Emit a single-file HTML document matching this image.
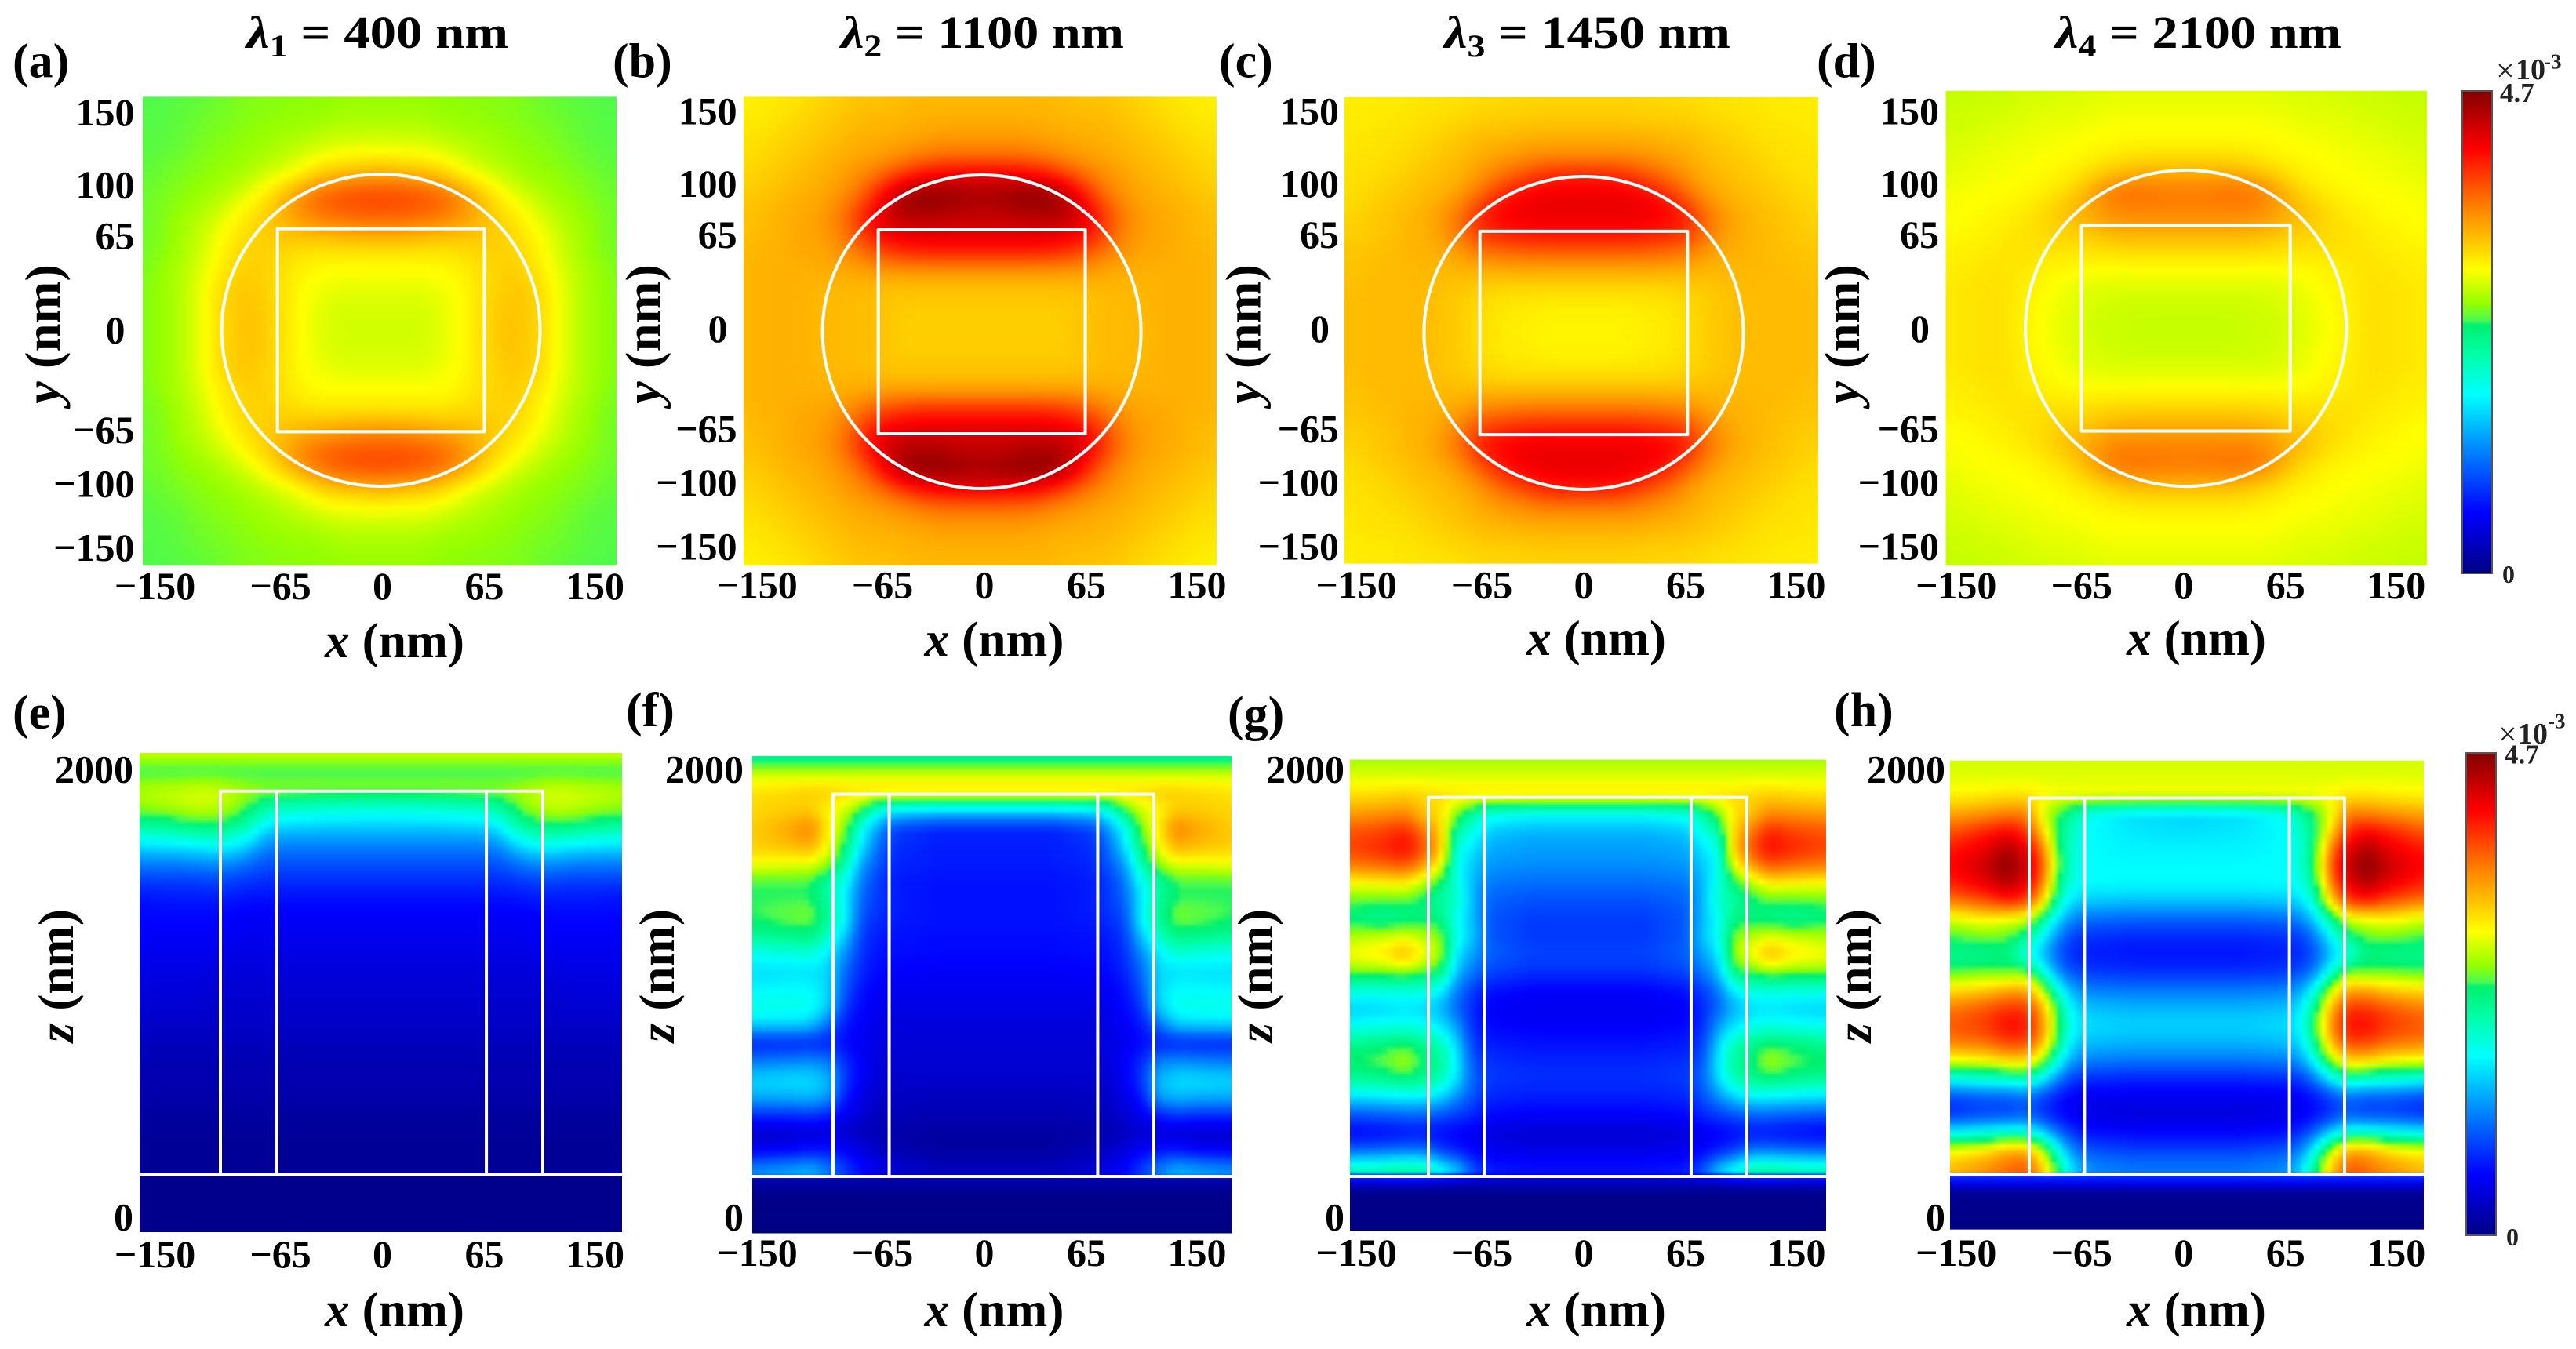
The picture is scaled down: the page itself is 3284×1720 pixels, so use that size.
<!DOCTYPE html>
<html lang="en">
<head>
<meta charset="utf-8">
<title>Electric field intensity maps</title>
<style>
html,body{margin:0;padding:0;background:#fff;}
svg{display:block;font-family:"Liberation Serif",serif;font-weight:bold;}
</style>
</head>
<body>
<svg id="figure" width="3284" height="1720" viewBox="0 0 3284 1720">
  <defs>
    <filter id="smooth" color-interpolation-filters="sRGB"><feGaussianBlur stdDeviation="2.5"/></filter>
  </defs>
</svg>
<script>
/* ---- colour scale: percent of colorbar range (0 - 4.7e-3) ---- */
const cmapPos=[0,12.5,25,37,45,51.5,52.5,56,63,76,88,100];
const cmapRed=[0,0,0,0,0,0,75,150,255,255,255,130];
const cmapGreen=[0,0,128,255,255,240,250,255,255,128,0,0];
const cmapBlue=[130,255,255,255,170,110,80,0,0,0,0,0];

/* ---- tick labels ---- */
const xTickValues=[-150,-65,0,65,150];
const yTickValues=[150,100,65,0,-65,-100,-150];
const zTickValues=[2000,0];

/* ---- grid of the xy maps (nm); fields are stored for one quadrant ---- */
const xyGridX=[0,12.5,25,37.5,50,62.5,75,87.5,100,112.5,125,137.5,150];
const xyGridY=[0,12.5,25,37.5,50,62.5,75,87.5,100,112.5,125,137.5,150];

const fieldA=[
[60,60,60,61,63,66,69,69,67,62,58,56,55],
[60,60,60,61,63,66,69,69,67,62,58,56,55],
[61,61,61,62,63,66,68,69,67,62,58,56,55],
[63,63,63,63,64,66,68,68,65,61,58,56,54.5],
[65,65,65,65,66,67,68,67,64,60,57,55,54.5],
[73,73,72,71,70,69,68,66,63,59,57,55,54],
[80,80,79,78,75,71,67,64,60,58,56,55,54],
[82,82,81,79,75,69,64,60,58,56,55.5,54.5,54],
[72,71,70,68,64,61,59,57,56,55.5,55,54,53.5],
[64,63,63,62,60,58,57,56,55.5,55,54,53.5,53],
[59,59,59,58,57,57,56,55.5,55,54.5,53.5,53,53],
[57,57,57,56,56,55.5,55.5,55,54.5,54,53.5,53,52.8],
[56,56,56,55.5,55.5,55.5,55,55,54,53.5,53,52.8,52.6]];

const fieldB=[
[68,68,68,68,68,69,70,70,70,71,71,71,70],
[68,68,68,68,68,69,70,70,70,71,71,71,70],
[69,69,69,69,69,69,70,70,70,71,71,71,70],
[72,72,72,72,72,72,72,71,71,71,71,71,70],
[85,85,85,85,84,81,77,74,72,72,71,71,70],
[91,91,91,91,90,89,83,76,73,72,71,70,69],
[94,94,95,96,96,92,85,77,73,72,71,70,69],
[97,98,100,100,97,88,78,74,72,71,70,69,68],
[90,90,89,87,83,78,75,73,71,70,69,68,67],
[77,77,77,76,74,73,72,71,70,69,68,67,66],
[73,73,73,72,72,71,71,70,69,68,67,66,65.5],
[71,71,71,71,70,70,70,69,68,67,66,65,65],
[70,70,70,70,70,69,69,68,67,66,65,65,64]];

const fieldC=[
[64,64,64,64.5,65,66,67.5,69,70,70,70,70,69.5],
[64,64,64,65,65,66,68,69,70,70,70,70,69.5],
[66,66,66,66,66,67,68,69,70,70,70,70,69.5],
[70,70,70,70,70,70,70,70,70,70,70,69.5,69],
[78,78,78,78,77,76,73,71,71,70,70,69,69],
[87,87,87,86,85,84,78,73,71,70,69,68,68],
[90,90,90,90,89,87,79,74,71,70,69,68,67],
[90,90,90,89,86,80,74,71,70,69,68,67,66],
[86,86,85,81,78,74,71,70,69,68,67,66,66],
[75,75,75,74,73,72,70,69,68,67,66,66,65.5],
[71,71,71,71,70,70,69,68,67,66,66,65.5,65],
[68.5,68.5,68.5,68,68,68,67,66.5,66,65.5,65,65,65],
[67,67,67,67,66.5,66.5,66,65.5,65.5,65,65,65,64.5]];

const fieldD=[
[59,59,59,59.5,59.5,60,61,62.5,64,66,66,65.5,65],
[59.5,59.5,59.5,59.5,60,60.5,61.5,63,64,66,66,65.5,65],
[60.5,60.5,60.5,60.5,60.5,61,62,63.5,64.5,66,66,65.5,65],
[63,63,63,63,63,63,63.5,64,65,66,65.5,65,64.5],
[67,67,67,67,66.5,66,66,66,66,65.5,65,64.5,64],
[72,72,72,72,71,69,68,67,66,65,64,63.5,63],
[76,76,76,76,75,72,70,67,65,64,63.5,63,62.5],
[77,77,78,78,76,70,66,64,63.5,63,63,62.5,62],
[70,70,70,69,67,65,64,63.5,63,62.5,62,61.5,61],
[65,65,65,64.5,64,63.5,63,62.5,62,62,61.5,61,60.5],
[63,63,63,63,63,62.5,62,62,61.5,61,60.5,60,60],
[62,62,62,62,62,61.5,61,61,60.5,60,60,59.5,59.5],
[61,61,61,61,61,60.5,60.5,60,60,59.5,59.5,59,59]];

/* ---- grid of the xz maps (nm); fields are stored for x >= 0 ---- */
const xzGridX=[0,35,62,72,82,92,102,114,128,150];
const xzGridZ=[2060,1980,1900,1820,1740,1660,1580,1500,1420,1340,1260,1180,1100,1020,940,860,780,700,620,540,460,380,300,220];
const substrateZ=[180,120,-70];

const fieldE=[
[60,60,60,60,60,60,60,60,60,60],
[51,51,51,51,51,51,51,51,51,51],
[56,56,56,56,57,58,60,60,59,58],
[41,42,44,47,52,57,59,60,58,56],
[33,33,34,36,44,49,51,51,49,47],
[26,26,26,27,34,38,40,38,37,36],
[21,21,21,21,24,27,28,27,26,26],
[17,17,17,17,18,19,20,19,19,19],
[14,14,14,14,14,15,15,15,15,14],
[12,12,12,12,12,12,13,13,13,13],
[11,11,11,11,11,12,12,12,12,12],
[10,10,10,10,10,10,11,11,11,11],
[9,9,9,9,9,9,9,10,10,10],
[8,8,8,8,8,8,8,9,9,9],
[7.5,7.5,7.5,7.5,7.5,7.5,7.5,8,8,8],
[7,7,7,7,7,7,7,7,7,7],
[6,6,6,6,6,6,6,6,6,6],
[5,5,5,5,5,5,5,5,5,5],
[4.5,4.5,4.5,4.5,4.5,4.5,4.5,4.5,4.5,4.5],
[4,4,4,4,4,4,4,4,4,4],
[3,3,3,3,3,3,3,3,3,3],
[2.5,2.5,2.5,2.5,2.5,2.5,2.5,2.5,2.5,2.5],
[2,2,2,2,2,2,2,2,2,2],
[2,2,2,2,2,2,2,2,2,2]];
const substrateE=[1,1,1];

const fieldF=[
[46,46,46,46,46,46,46,46,46,46],
[60,60,60,60,60,60,60,60,60,60],
[67,67,67,67,67,67,68,68,67,66],
[34,34,36,40,52,60,63,68,68,67],
[16,16,19,28,38,55,64,76,72,68],
[15,15,17,23,35,50,62,72,70,68],
[15,15,16,21,28,45,56,62,62,63],
[14,14,15,18,24,38,45,52,52,52],
[14,14,15,18,22,35,46,52,52,52],
[14,14,15,17,20,37,47,55,54,52],
[13.5,13.5,14,15,18,32,42,50,49,48],
[13,13,13.5,14,17,26,35,41,40,38],
[12,12,12.5,13,16,22,33,34,34,34],
[11,11,11,12,14,20,33,37,37,36],
[10,10,10,11,13,17,32,39,40,40],
[9,9,9,10,12,14,22,32,33,33],
[8.5,8.5,8.5,9.5,11,13,15,15,15,15],
[8,8,8,9,12,16,24,26,25,24],
[7.5,7.5,7.5,8,12,17,30,34,34,33],
[6,6,6.5,7,10,14,28,31,30,30],
[5,5,5.5,6,8,11,15,18,17,17],
[3,3,4,5,6,7,8,8,7,7],
[3,3,5,7,9,12,14,14,12,11],
[6,6,8,10,13,18,24,30,28,26]];
const substrateF=[6,1,0];

const fieldG=[
[57,57,57,57,57,57,57,57,57,57],
[61,61,61,61,61,61,61,61,61,61],
[66,66,66,66,66,66,67,68,67,66],
[38,38,40,46,55,66,68,75,74,73],
[30,30,32,40,45,68,76,85,82,80],
[28,28,29,35,38,70,80,88,85,82],
[26,26,27,32,37,62,72,80,78,76],
[23,23,24,30,40,50,56,64,63,62],
[20,20,22,30,42,46,50,52,52,53],
[18,18,21,31,37,50,50,49,47,50],
[18,18,21,32,38,56,58,62,60,58],
[19,19,22,28,34,58,62,72,66,63],
[17,17,19,24,30,50,52,55,54,54],
[12,12,14,18,24,36,40,40,40,40],
[11,11,12,16,22,30,33,34,33,32],
[12,12,13,16,28,35,38,40,39,38],
[14,14,15,18,33,44,48,52,50,48],
[16,16,17,20,36,47,50,58,54,52],
[17,17,18,22,34,44,48,50,48,47],
[15,15,16,20,26,33,36,36,35,34],
[12,12,13,16,18,20,22,22,21,20],
[8,8,9,11,12,13,14,14,13,12],
[10,10,11,12,15,18,24,24,23,22],
[14,14,15,20,32,38,46,47,45,44]];
const substrateG=[10,1,0];

const fieldH=[
[60,60,60,60,60,60,60,60,60,60],
[61,61,61,61,61,61,61,61,61,61],
[63,63,63,63,63,64,66,66,65,64],
[33,34,38,46,52,62,76,76,74,72],
[34,35,37,42,50,68,84,88,85,80],
[36,36,37,40,52,78,90,96,90,86],
[37,37,37,40,54,82,93,100,93,88],
[37,37,37,38,50,78,90,95,90,85],
[31,31,32,33,44,68,82,85,80,76],
[22,22,23,25,34,48,60,62,64,60],
[16,16,17,18,25,38,48,53,54,52],
[14,14,15,16,21,31,38,50,48,48],
[17,17,18,20,26,42,55,53,54,52],
[24,24,25,28,40,60,72,72,68,66],
[30,30,31,34,50,72,83,83,80,76],
[33,33,34,36,54,76,87,88,83,80],
[30,30,31,33,50,72,82,82,78,76],
[24,24,25,27,40,58,68,68,64,62],
[16,16,17,18,26,38,46,43,42,40],
[11,11,11,12,15,20,24,22,22,20],
[9,9,10,11,13,17,20,18,18,16],
[12,12,13,16,22,31,38,38,36,34],
[18,18,20,24,38,58,70,70,64,60],
[24,24,26,32,50,70,80,78,74,70]];
const substrateH=[24,2,0];

const svg=document.getElementById('figure');
const SVGNS=svg.namespaceURI;
const CELL=8;

/* ---- helpers ---- */
function colorOf(v){
  v=Math.max(0,Math.min(100,v));
  let i=0;
  while(i<cmapPos.length-2&&v>cmapPos[i+1])i++;
  const t=(v-cmapPos[i])/(cmapPos[i+1]-cmapPos[i]);
  const r=cmapRed[i]+(cmapRed[i+1]-cmapRed[i])*t;
  const g=cmapGreen[i]+(cmapGreen[i+1]-cmapGreen[i])*t;
  const b=cmapBlue[i]+(cmapBlue[i+1]-cmapBlue[i])*t;
  return 'rgb('+Math.round(r)+','+Math.round(g)+','+Math.round(b)+')';
}
function locate(grid,v){
  const n=grid.length;
  const asc=grid[n-1]>grid[0];
  if(asc){
    if(v<=grid[0])return [0,0];
    if(v>=grid[n-1])return [n-2,1];
    let i=0;while(grid[i+1]<v)i++;
    return [i,(v-grid[i])/(grid[i+1]-grid[i])];
  }
  if(v>=grid[0])return [0,0];
  if(v<=grid[n-1])return [n-2,1];
  let i=0;while(grid[i+1]>v)i++;
  return [i,(v-grid[i])/(grid[i+1]-grid[i])];
}
function bilinear(field,gridRow,gridCol,rowV,colV){
  const [r,tr]=locate(gridRow,rowV);
  const [c,tc]=locate(gridCol,colV);
  const a=field[r][c]+(field[r][c+1]-field[r][c])*tc;
  const b=field[r+1][c]+(field[r+1][c+1]-field[r+1][c])*tc;
  return a+(b-a)*tr;
}
function addText(parent,name,str,x,y,size,anchor,fill){
  const el=document.createElementNS(SVGNS,'text');
  
  
  el.setAttribute('x',x);
  el.setAttribute('y',y);
  el.setAttribute('font-size',size);
  el.setAttribute('text-anchor',anchor||'start');
  if(fill)el.setAttribute('fill',fill);
  el.textContent=str;
  parent.appendChild(el);
  return el;
}
function addSpan(parent,str,italic,size,dy){
  const s=document.createElementNS(SVGNS,'tspan');
  if(italic)s.setAttribute('font-style','italic');
  if(size)s.setAttribute('font-size',size);
  if(dy)s.setAttribute('dy',dy);
  s.textContent=str;
  parent.appendChild(s);
}
function addGroup(parent,name){
  const g=document.createElementNS(SVGNS,'g');
  
  
  parent.appendChild(g);
  return g;
}
function addLineRect(parent,name,x,y,w,h){
  const r=document.createElementNS(SVGNS,'rect');
  
  
  r.setAttribute('x',x);r.setAttribute('y',y);
  r.setAttribute('width',w);r.setAttribute('height',h);
  r.setAttribute('fill','none');r.setAttribute('stroke','#fff');
  r.setAttribute('stroke-width','4');r.setAttribute('stroke-linejoin','round');
  parent.appendChild(r);
}
function addLine(parent,name,x1,y1,x2,y2){
  const l=document.createElementNS(SVGNS,'line');
  
  
  l.setAttribute('x1',x1);l.setAttribute('y1',y1);
  l.setAttribute('x2',x2);l.setAttribute('y2',y2);
  l.setAttribute('stroke','#fff');l.setAttribute('stroke-width','4');
  parent.appendChild(l);
}
/* shading: sample the field, soften it in value space, then colour each cell */
function drawHeat(parent,id,b,sampler,passes,splitY){
  const clip=document.createElementNS(SVGNS,'clipPath');
  clip.setAttribute('id','clip-'+id);
  const cr=document.createElementNS(SVGNS,'rect');
  cr.setAttribute('x',b.left);cr.setAttribute('y',b.top);
  cr.setAttribute('width',b.right-b.left);cr.setAttribute('height',b.bottom-b.top);
  clip.appendChild(cr);
  svg.querySelector('defs').appendChild(clip);
  const outer=addGroup(parent,'heatmap-'+id);
  outer.setAttribute('clip-path','url(#clip-'+id+')');
  const inner=addGroup(outer,'heatmap-cells-'+id);
  inner.setAttribute('filter','url(#smooth)');
  const xs=[],ys=[];
  for(let px=b.left-16;px<b.right+16;px+=CELL)xs.push(px);
  for(let py=b.top-16;py<b.bottom+16;py+=CELL)ys.push(py);
  let vals=ys.map(function(py){return xs.map(function(px){return sampler(px+CELL/2,py+CELL/2);});});
  const same=function(a,c){
    if(splitY===undefined)return true;
    return (ys[a]+CELL/2<splitY)===(ys[c]+CELL/2<splitY);
  };
  for(let p=0;p<passes;p++){
    vals=vals.map(function(row){
      return row.map(function(v,i){
        const l=row[Math.max(0,i-1)],r=row[Math.min(row.length-1,i+1)];
        return (l+v+r)/3;
      });
    });
    vals=vals.map(function(row,j){
      const up=(j>0&&same(j,j-1))?vals[j-1]:row;
      const dn=(j<vals.length-1&&same(j,j+1))?vals[j+1]:row;
      return row.map(function(v,i){return (up[i]+v+dn[i])/3;});
    });
  }
  const frag=document.createDocumentFragment();
  ys.forEach(function(py,j){
    xs.forEach(function(px,i){
      const el=document.createElementNS(SVGNS,'rect');
      
      
      el.setAttribute('x',px);
      el.setAttribute('y',py);
      el.setAttribute('width',CELL+0.5);
      el.setAttribute('height',CELL+0.5);
      el.setAttribute('fill',colorOf(vals[j][i]));
      frag.appendChild(el);
    });
  });
  inner.appendChild(frag);
}
function drawAxisTitle(g,name,letter,x,y,len,rotate){
  const t=addText(g,name,'',x,y,63,'middle');
  addSpan(t,letter,true);
  addSpan(t,' (nm)',false);
  t.setAttribute('textLength',len);
  t.setAttribute('lengthAdjust','spacingAndGlyphs');
  if(rotate)t.setAttribute('transform','rotate(-90 '+x+' '+y+')');
}
function drawXTicks(g,zeroX,baseline){
  xTickValues.forEach(function(tick){
    const edge=tick===-150?10:(tick===150?-29:0);
    const label=(tick<0?'\u2212':'')+Math.abs(tick);
    addText(g,'x-tick-label',label,zeroX+tick*2+edge,baseline,50,'middle');
  });
}

/* ---- xy panels ---- */
const xyPanels=[
 {id:'a',letter:'(a)',lx:16,field:fieldA,left:182,right:786,top:123.4,bottom:721,cx:485.6,cy:421,sx:2.03,sy:1.99,yRight:171.5,yTop:437.5,zeroX:487.5,xBase:764,
  titleN:'1',titleV:' = 400 nm',tx:314,tl:334,axX:503,yAxX:76,xAxB:838},
 {id:'b',letter:'(b)',lx:781,field:fieldB,left:948,right:1551,top:123.4,bottom:721,cx:1251.6,cy:423,sx:2.03,sy:2,yRight:939.6,yTop:436,zeroX:1255,xBase:762.5,
  titleN:'2',titleV:' = 1100 nm',tx:1072,tl:361,axX:1267.5,yAxX:841.6,xAxB:836.5},
 {id:'c',letter:'(c)',lx:1554,field:fieldC,left:1714,right:2318,top:124,bottom:718.6,cx:2019,cy:424.5,sx:2.036,sy:1.995,yRight:1707,yTop:436,zeroX:2019,xBase:762.5,
  titleN:'3',titleV:' = 1450 nm',tx:1841,tl:365,axX:2035,yAxX:1606.5,xAxB:835},
 {id:'d',letter:'(d)',lx:2316,field:fieldD,left:2480.6,right:3094,top:115.7,bottom:721,cx:2786.7,cy:418.5,sx:2.046,sy:2.016,yRight:2472,yTop:436,zeroX:2783.7,xBase:763,
  titleN:'4',titleV:' = 2100 nm',tx:2620,tl:365,axX:2800,yAxX:2370,xAxB:835}
];
xyPanels.forEach(function(p){
  const g=addGroup(svg,'panel-'+p.id);
  drawHeat(g,p.id,p,function(px,py){
    const x=Math.abs((px-p.cx)/p.sx);
    const y=Math.abs((py-p.cy)/p.sy);
    return bilinear(p.field,xyGridY,xyGridX,y,x);
  },3);
  const c=document.createElementNS(SVGNS,'ellipse');
  
  
  c.setAttribute('cx',p.cx);c.setAttribute('cy',p.cy);
  c.setAttribute('rx',100*p.sx);c.setAttribute('ry',100*p.sy);
  c.setAttribute('fill','none');c.setAttribute('stroke','#fff');c.setAttribute('stroke-width','4');
  g.appendChild(c);
  addLineRect(g,'square-outline',p.cx-65*p.sx,p.cy-65*p.sy,130*p.sx,130*p.sy);
  addText(g,'panel-label',p.letter,p.lx,98.7,62);
  const t=addText(g,'wavelength-title','',p.tx,61,58);
  addSpan(t,'\u03bb',true);
  addSpan(t,p.titleN,false,40,11);
  addSpan(t,p.titleV,false,58,-11);
  t.setAttribute('textLength',p.tl);
  t.setAttribute('lengthAdjust','spacingAndGlyphs');
  yTickValues.forEach(function(tick){
    const nudge=tick===-65?7:(tick===-100?11:0);
    const label=(tick<0?'\u2212':'')+Math.abs(tick);
    const right=p.yRight-(tick===0?12:0);
    addText(g,'y-tick-label',label,right,p.yTop-tick*1.85+nudge,50,'end');
  });
  drawXTicks(g,p.zeroX,p.xBase);
  drawAxisTitle(g,'x-axis-title','x',p.axX,p.xAxB,178,false);
  drawAxisTitle(g,'y-axis-title','y',p.yAxX,426,178,true);
});

/* ---- xz panels ---- */
const xzPanels=[
 {id:'e',letter:'(e)',lx:16,ly:929,field:fieldE,sub:substrateE,left:178,right:793,top:960,bottom:1571,line:1498,cx:486.5,sx:2.055,zRight:170,zeroX:487.5,xBase:1616,axX:503,zAxX:93},
 {id:'f',letter:'(f)',lx:798,ly:926,field:fieldF,sub:substrateF,left:959,right:1570,top:964,bottom:1572.5,line:1500,cx:1266.5,sx:2.045,zRight:948,zeroX:1255,xBase:1614,axX:1267.5,zAxX:859},
 {id:'g',letter:'(g)',lx:1565,ly:931,field:fieldG,sub:substrateG,left:1721,right:2328,top:968.6,bottom:1569,line:1500,cx:2024,sx:2.03,zRight:1714,zeroX:2019,xBase:1614,axX:2035,zAxX:1622},
 {id:'h',letter:'(h)',lx:2338,ly:926,field:fieldH,sub:substrateH,left:2486,right:3090,top:969.7,bottom:1567.6,line:1497,cx:2788,sx:2.01,zRight:2480,zeroX:2783.7,xBase:1614,axX:2800,zAxX:2385}
];
const LINE_Z=184;
xzPanels.forEach(function(p){
  const g=addGroup(svg,'panel-'+p.id);
  const zTop=xzGridZ[0], zBot=substrateZ[substrateZ.length-1];
  const zToY=function(z){
    return z>=LINE_Z? p.top+(zTop-z)/(zTop-LINE_Z)*(p.line-p.top)
                    : p.line+(LINE_Z-z)/(LINE_Z-zBot)*(p.bottom-p.line);
  };
  const yToZ=function(y){
    return y<=p.line? zTop-(y-p.top)/(p.line-p.top)*(zTop-LINE_Z)
                    : LINE_Z-(y-p.line)/(p.bottom-p.line)*(LINE_Z-zBot);
  };
  const lastRow=p.field[p.field.length-1];
  const rows=p.field.concat([lastRow],p.sub.map(function(v){return xzGridX.map(function(){return v;});}));
  const zs=xzGridZ.concat([LINE_Z+2],substrateZ);
  drawHeat(g,p.id,p,function(px,py){
    return bilinear(rows,zs,xzGridX,yToZ(py),Math.abs((px-p.cx)/p.sx));
  },1,p.line);
  const rectTop=zToY(1890);
  addLine(g,'substrate-line',p.left,p.line,p.right,p.line);
  addLineRect(g,'outer-disk-outline',p.cx-100*p.sx,rectTop,200*p.sx,p.line-rectTop);
  addLine(g,'inner-square-left',p.cx-65*p.sx,rectTop,p.cx-65*p.sx,p.line);
  addLine(g,'inner-square-right',p.cx+65*p.sx,rectTop,p.cx+65*p.sx,p.line);
  addText(g,'panel-label',p.letter,p.lx,p.ly,62);
  zTickValues.forEach(function(tick){
    const base=tick===2000?997.5:1568.5;
    addText(g,'z-tick-label',String(tick),p.zRight,base,50,'end');
  });
  drawXTicks(g,p.zeroX,p.xBase);
  drawAxisTitle(g,'x-axis-title','x',p.axX,1691,178,false);
  drawAxisTitle(g,'z-axis-title','z',p.zAxX,1244,170,true);
});

/* ---- colorbars ---- */
const grad=document.createElementNS(SVGNS,'linearGradient');
grad.setAttribute('id','cbar');
grad.setAttribute('x1','0');grad.setAttribute('y1','1');
grad.setAttribute('x2','0');grad.setAttribute('y2','0');
cmapPos.forEach(function(pos){
  const s=document.createElementNS(SVGNS,'stop');
  s.setAttribute('offset',pos/100);
  s.setAttribute('stop-color',colorOf(pos));
  grad.appendChild(s);
});
svg.querySelector('defs').appendChild(grad);
const colorbars=[
 {name:'colorbar-top',x:3139,w:38,y:116,h:615,cross:[3182,104],ten:[3207,101],exp:[3243,87.5],max:[3187,130],min:[3190,743]},
 {name:'colorbar-bottom',x:3144,w:38,y:960,h:615,cross:[3185,950],ten:[3210,948],exp:[3248,928.5],max:[3193,973.5],min:[3195,1588]}
];
colorbars.forEach(function(c){
  const g=addGroup(svg,c.name);
  const r=document.createElementNS(SVGNS,'rect');
  
  
  r.setAttribute('x',c.x);r.setAttribute('y',c.y);
  r.setAttribute('width',c.w);r.setAttribute('height',c.h);
  r.setAttribute('fill','url(#cbar)');
  r.setAttribute('stroke','#555');r.setAttribute('stroke-width','2');
  g.appendChild(r);
  addText(g,'colorbar-multiplier-sign','\u00d7',c.cross[0],c.cross[1],42,'start','#222').setAttribute('font-weight','normal');
  addText(g,'colorbar-multiplier-base','10',c.ten[0],c.ten[1],38,'start','#222');
  addText(g,'colorbar-multiplier-exponent','-3',c.exp[0],c.exp[1],27,'start','#222');
  addText(g,'colorbar-max-label','4.7',c.max[0],c.max[1],35,'start','#222');
  addText(g,'colorbar-min-label','0',c.min[0],c.min[1],32,'start','#222');
});
</script>
</body>
</html>
